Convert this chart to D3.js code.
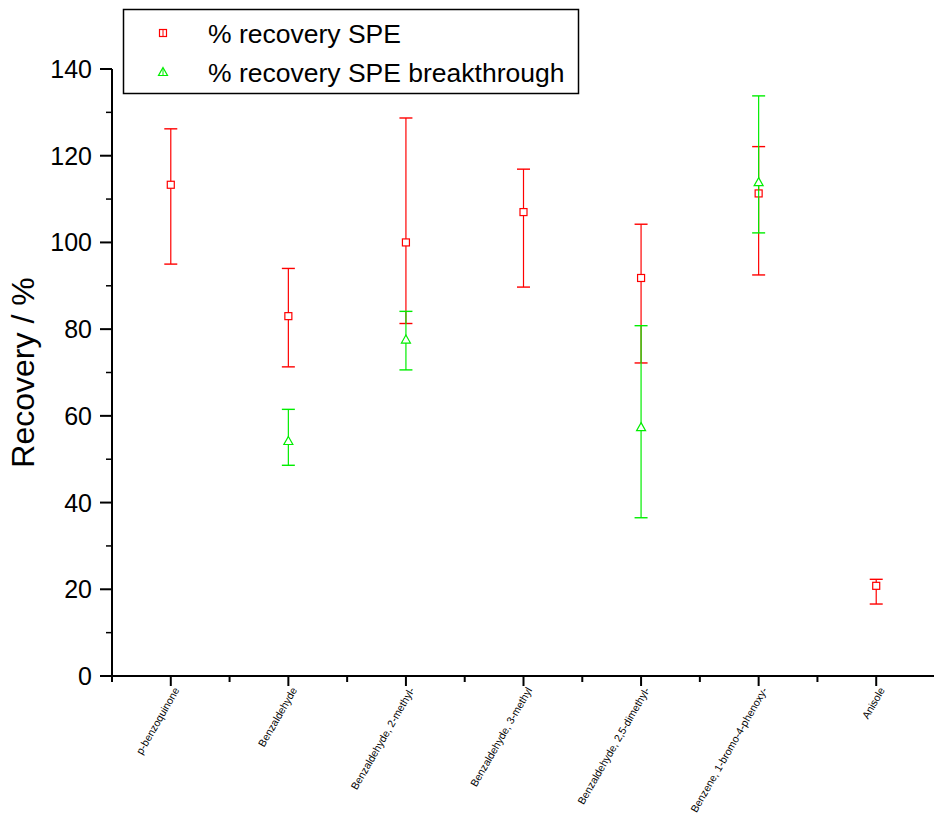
<!DOCTYPE html>
<html><head><meta charset="utf-8">
<script src="https://cdn.jsdelivr.net/npm/d3@7"></script>
<style>body{margin:0;background:#fff}svg{display:block;font-family:Arial,"Liberation Sans",sans-serif}</style>
</head><body>
<script>
const categories = ["p-benzoquinone","Benzaldehyde","Benzaldehyde, 2-methyl-","Benzaldehyde, 3-methyl","Benzaldehyde, 2,5-dimethyl-","Benzene, 1-bromo-4-phenoxy-","Anisole"];
const speValue = [113.3, 83.0, 100.0, 107.0, 91.8, 111.3, 20.8];
const speLow   = [95.0, 71.3, 81.3, 89.7, 72.2, 92.5, 16.6];
const speHigh  = [126.2, 94.0, 128.7, 116.9, 104.2, 122.1, 22.3];
const brkValue = [null, 54.2, 77.6, null, 57.4, 113.9, null];
const brkLow   = [null, 48.6, 70.6, null, 36.5, 102.2, null];
const brkHigh  = [null, 61.5, 84.1, null, 80.8, 133.8, null];
const yTicks = [0,20,40,60,80,100,120,140];
const seriesNames = ["% recovery SPE","% recovery SPE breakthrough"];

const W=934,H=814;
const svg=d3.select("body").append("svg").attr("width",W).attr("height",H);
const x=d3.scaleLinear().domain([0.5,7.5]).range([112,935]);
const y=d3.scaleLinear().domain([0,140]).range([676,69]);

// y axis
const ya=svg.append("g").attr("transform","translate(112,0)");
ya.append("line").attr("y1",y(0)).attr("y2",y(140)).attr("stroke","#000").attr("stroke-width",2);
const minorY=d3.range(10,140,20);
ya.selectAll(".mj").data(yTicks).join("line").attr("x1",-12).attr("x2",0).attr("y1",d=>y(d)).attr("y2",d=>y(d)).attr("stroke","#000").attr("stroke-width",2);
ya.selectAll(".mn").data(minorY).join("line").attr("x1",-6).attr("x2",0).attr("y1",d=>y(d)).attr("y2",d=>y(d)).attr("stroke","#000").attr("stroke-width",1.5);
ya.selectAll("text").data(yTicks).join("text").attr("x",-20).attr("y",d=>y(d)).attr("dy","0.36em").attr("text-anchor","end").attr("font-size",25).text(d=>d);
svg.append("text").attr("transform",`translate(34,${y(70)}) rotate(-90)`).attr("text-anchor","middle").attr("font-size",32).text("Recovery / %");

// x axis
const xa=svg.append("g").attr("transform",`translate(0,${y(0)})`);
xa.append("line").attr("x1",112).attr("x2",W).attr("stroke","#000").attr("stroke-width",2);
const idx=categories.map((c,i)=>i+1);
const minorX=d3.range(0.5,7.6,1);
xa.selectAll(".mj").data(idx).join("line").attr("x1",d=>x(d)).attr("x2",d=>x(d)).attr("y1",0).attr("y2",10).attr("stroke","#000").attr("stroke-width",2);
xa.selectAll(".mn").data(minorX).join("line").attr("x1",d=>x(d)).attr("x2",d=>x(d)).attr("y1",0).attr("y2",6).attr("stroke","#000").attr("stroke-width",2);
xa.selectAll("text").data(categories).join("text")
  .attr("transform",(d,i)=>`translate(${x(i+1)+9},${14}) rotate(-60)`)
  .attr("text-anchor","end").attr("font-size",10.5).text(d=>d);

function drawSeries(vals,lo,hi,color,shape){
  const g=svg.append("g");
  vals.forEach((v,i)=>{
    if(v==null) return;
    const cx=x(i+1);
    g.append("line").attr("x1",cx).attr("x2",cx).attr("y1",y(lo[i])).attr("y2",y(hi[i])).attr("stroke",color).attr("stroke-width",1.2);
    [lo[i],hi[i]].forEach(e=>g.append("line").attr("x1",cx-6.5).attr("x2",cx+6.5).attr("y1",y(e)).attr("y2",y(e)).attr("stroke",color).attr("stroke-width",1.4));
    drawMarker(g,cx,y(v),color,shape);
  });
}
function drawMarker(g,cx,cy,color,shape){
  if(shape==="square") g.append("rect").attr("x",cx-3.5).attr("y",cy-3.5).attr("width",7).attr("height",7).attr("fill","#fff").attr("stroke",color).attr("stroke-width",1.2);
  else g.append("path").attr("d",`M${cx},${cy-4.5}L${cx+4.5},${cy+3.5}L${cx-4.5},${cy+3.5}Z`).attr("fill","#fff").attr("stroke",color).attr("stroke-width",1.2);
}
drawSeries(speValue,speLow,speHigh,"#ff0000","square");
drawSeries(brkValue,brkLow,brkHigh,"#00ee00","tri");

// legend
const lg=svg.append("g");
lg.append("rect").attr("x",123.5).attr("y",9.5).attr("width",455).attr("height",84).attr("fill","#fff").attr("stroke","#000").attr("stroke-width",1.5);
const lrows=[{n:seriesNames[0],c:"#ff0000",s:"square",y:33},{n:seriesNames[1],c:"#00ee00",s:"tri",y:72}];
lrows.forEach(r=>{
  drawMarker(lg,163,r.y,r.c,r.s);
  lg.append("line").attr("x1",163).attr("x2",163).attr("y1",r.y-4).attr("y2",r.y+4).attr("stroke",r.c).attr("stroke-width",1);
  lg.append("text").attr("x",208).attr("y",r.y).attr("dy","0.36em").attr("font-size",26.5).text(r.n);
});
</script>
</body></html>
